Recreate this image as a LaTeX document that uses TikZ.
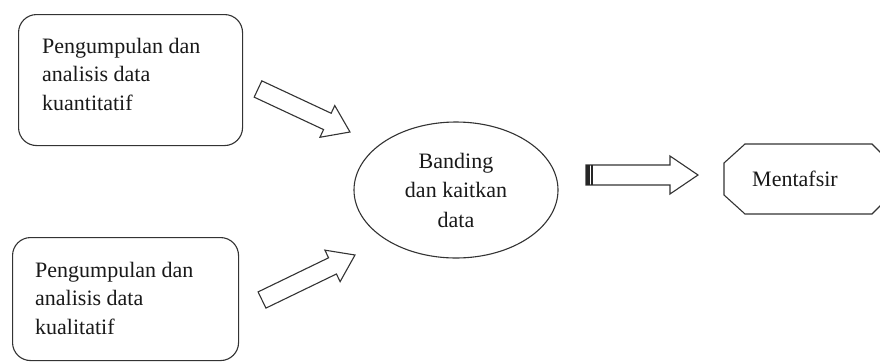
\documentclass[tikz,border=0pt]{standalone}
\usepackage{fontspec}
\setmainfont{Liberation Serif}
\usetikzlibrary{shapes.geometric,calc}
\newcommand{\blockarr}[6]{% #1 name, #2 tail, #3 tip, #4 shaft half, #5 head half, #6 head length
  \coordinate (#1h) at ($(#3)!#6!(#2)$);
  \draw[outl,line join=miter,fill=white] ($(#2)!#4!90:(#3)$) -- ($(#1h)!#4!90:(#3)$) -- ($(#1h)!#5!90:(#3)$) -- (#3) -- ($(#1h)!#5!-90:(#3)$) -- ($(#1h)!#4!-90:(#3)$) -- ($(#2)!#4!-90:(#3)$) -- cycle;
}
\begin{document}
\begin{tikzpicture}[x=1pt,y=-1pt,
  outl/.style={draw=black!80,line width=1.1pt},
  boxtxt/.style={font=\fontsize{22}{28.5}\selectfont,inner sep=0pt,text=black!90,align=left},
  elltxt/.style={font=\fontsize{22}{29.5}\selectfont,text=black!90,align=center},
  rbox/.style={outl,rounded corners=18pt,anchor=north west,inner sep=0pt},
]
\clip (0,0) rectangle (880,362);
\fill[white] (0,0) rectangle (880,362);
% left boxes
\node[rbox,minimum width=224pt,minimum height=131pt] (q1) at (18,14) {};
\node[boxtxt,anchor=north west] (t1) at (42,38) {Pengumpulan dan\\analisis data\\kuantitatif};
\node[rbox,minimum width=226pt,minimum height=123pt] (q2) at (12,237) {};
\node[boxtxt,anchor=north west] (t2) at (35,262) {Pengumpulan dan\\analisis data\\kualitatif};
% ellipse
\node[outl,ellipse,minimum width=204pt,minimum height=136pt,inner sep=0pt,elltxt] (e) at (456,190) {Banding\\dan kaitkan\\data};
% octagon
\coordinate (o1) at (745,144);
\coordinate (o2) at (872,144);
\coordinate (o3) at (890,162);
\coordinate (o4) at (890,196);
\coordinate (o5) at (872,214);
\coordinate (o6) at (745,214);
\coordinate (o7) at (724,195);
\coordinate (o8) at (724,163);
\draw[outl,line join=miter] (o1) -- (o2) -- (o3) -- (o4) -- (o5) -- (o6) -- (o7) -- (o8) -- cycle;
\node[boxtxt] (m) at (795,178.5) {Mentafsir};
% block arrows
\coordinate (a1s) at (258,89);
\coordinate (a1e) at (350,132);
\coordinate (a2s) at (262,300);
\coordinate (a2e) at (355,255);
\coordinate (a3s) at (586,175);
\coordinate (a3e) at (698,175);
\blockarr{a1}{a1s}{a1e}{9pt}{17.5pt}{25pt}
\blockarr{a2}{a2s}{a2e}{9pt}{17.5pt}{25pt}
\blockarr{a3}{a3s}{a3e}{10pt}{19pt}{28pt}
\fill[black!85] (585.5,165) rectangle (589.5,185);
\fill[black!85] (591,165) rectangle (593,185);
\end{tikzpicture}
\end{document}
